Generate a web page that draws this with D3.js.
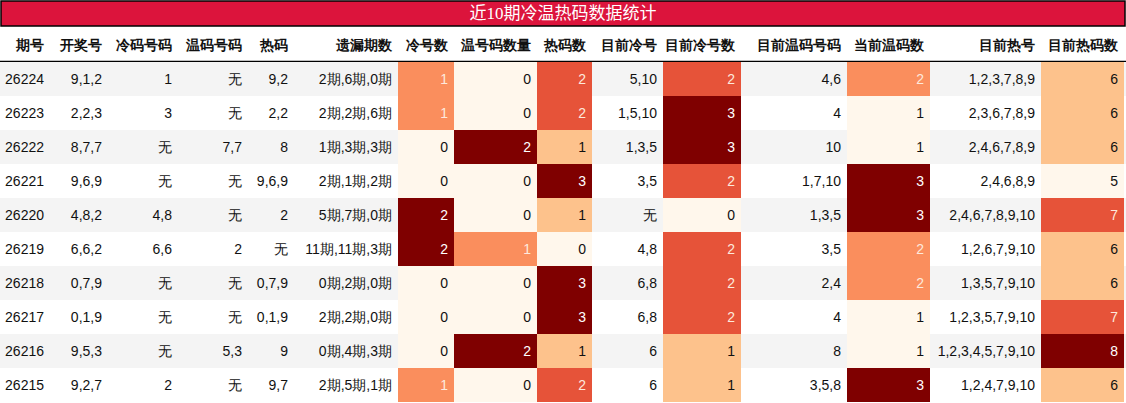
<!DOCTYPE html><html><head><meta charset="utf-8">
<script src="https://cdn.jsdelivr.net/npm/d3@7"></script>
<style>body{margin:0;background:#fff}</style></head><body><svg id="c" width="1126" height="403"></svg>
<script>
const title="近10期冷温热码数据统计";
const headers=["期号","开奖号","冷码号码","温码号码","热码","遗漏期数","冷号数","温号码数量","热码数","目前冷号","目前冷号数","目前温码号码","当前温码数","目前热号","目前热码数"];
const issues=["26224","26223","26222","26221","26220","26219","26218","26217","26216","26215"];
const draws=["9,1,2","2,2,3","8,7,7","9,6,9","4,8,2","6,6,2","0,7,9","0,1,9","9,5,3","9,2,7"];
const coldNums=["1","3","无","无","4,8","6,6","无","无","无","2"];
const warmNums=["无","无","7,7","无","无","2","无","无","5,3","无"];
const hotNums=["9,2","2,2","8","9,6,9","2","无","0,7,9","0,1,9","9","9,7"];
const miss=["2期,6期,0期","2期,2期,6期","1期,3期,3期","2期,1期,2期","5期,7期,0期","11期,11期,3期","0期,2期,0期","2期,2期,0期","0期,4期,3期","2期,5期,1期"];
const coldCount=[1,1,0,0,2,2,0,0,0,1];
const warmCount=[0,0,2,0,0,1,0,0,2,0];
const hotCount=[2,2,1,3,1,0,3,3,1,2];
const curCold=["5,10","1,5,10","1,3,5","3,5","无","4,8","6,8","6,8","6","6"];
const curColdCount=[2,3,3,2,0,2,2,2,1,1];
const curWarm=["4,6","4","10","1,7,10","1,3,5","3,5","2,4","4","8","3,5,8"];
const curWarmCount=[2,1,1,3,3,2,2,1,1,3];
const curHot=["1,2,3,7,8,9","2,3,6,7,8,9","2,4,6,7,8,9","2,4,6,8,9","2,4,6,7,8,9,10","1,2,6,7,9,10","1,3,5,7,9,10","1,2,3,5,7,9,10","1,2,3,4,5,7,9,10","1,2,4,7,9,10"];
const curHotCount=[6,6,6,5,7,6,6,7,8,6];

const cols=[issues,draws,coldNums,warmNums,hotNums,miss,coldCount,warmCount,hotCount,curCold,curColdCount,curWarm,curWarmCount,curHot,curHotCount];
const colored=new Set([6,7,8,10,12,14]);
const edges=[0,50,108,178,248,294,398,454,537,592,663,741,847,930,1041,1124];
const svg=d3.select("#c");
const font="'Liberation Sans',Arial,sans-serif";
const titleH=26, headY=26, headH=36, rowY=62;
const y=d3.scaleBand().domain(d3.range(issues.length)).range([rowY,402]);
svg.append("rect").attr("x",1).attr("y",1).attr("width",1124).attr("height",titleH-1).attr("fill","#dc143c").attr("stroke","#000").attr("stroke-width",1.5);
svg.append("text").attr("x",563).attr("y",19).attr("text-anchor","middle").attr("fill","#fff").attr("font-family","'Liberation Serif','Noto Sans CJK SC',serif").attr("font-size",17).text(title);
headers.forEach((h,i)=>svg.append("text").attr("x",edges[i+1]-6).attr("y",headY+24).attr("text-anchor","end").attr("font-family",font).attr("font-weight","bold").attr("font-size",14).attr("fill","#111").text(h));
svg.append("line").attr("x1",0).attr("x2",1126).attr("y1",rowY-0.5).attr("y2",rowY-0.5).attr("stroke","#000").attr("stroke-width",1.5);
issues.forEach((_,r)=>svg.append("rect").attr("x",0).attr("y",y(r)).attr("width",1126).attr("height",y.bandwidth()).attr("fill",r%2==0?"#f4f4f4":"#fff"));
cols.forEach((col,c)=>{
  let sc=null;
  if(colored.has(c)) sc=d3.scaleLinear().domain(d3.extent(col)).range([0,1]);
  col.forEach((v,r)=>{
    let fill="#111";
    if(sc){const t=sc(v);svg.append("rect").attr("x",edges[c]).attr("y",y(r)).attr("width",edges[c+1]-edges[c]).attr("height",y.bandwidth()).attr("fill",d3.interpolateOrRd(t));
      if(t>=0.5) fill=t>=0.99?"#fff":"#fde9dc";}
    svg.append("text").attr("x",edges[c+1]-6).attr("y",y(r)+y.bandwidth()/2+5).attr("text-anchor","end").attr("font-family",font).attr("font-size",14).attr("fill",fill).text(v);
  });
});
</script></body></html>
